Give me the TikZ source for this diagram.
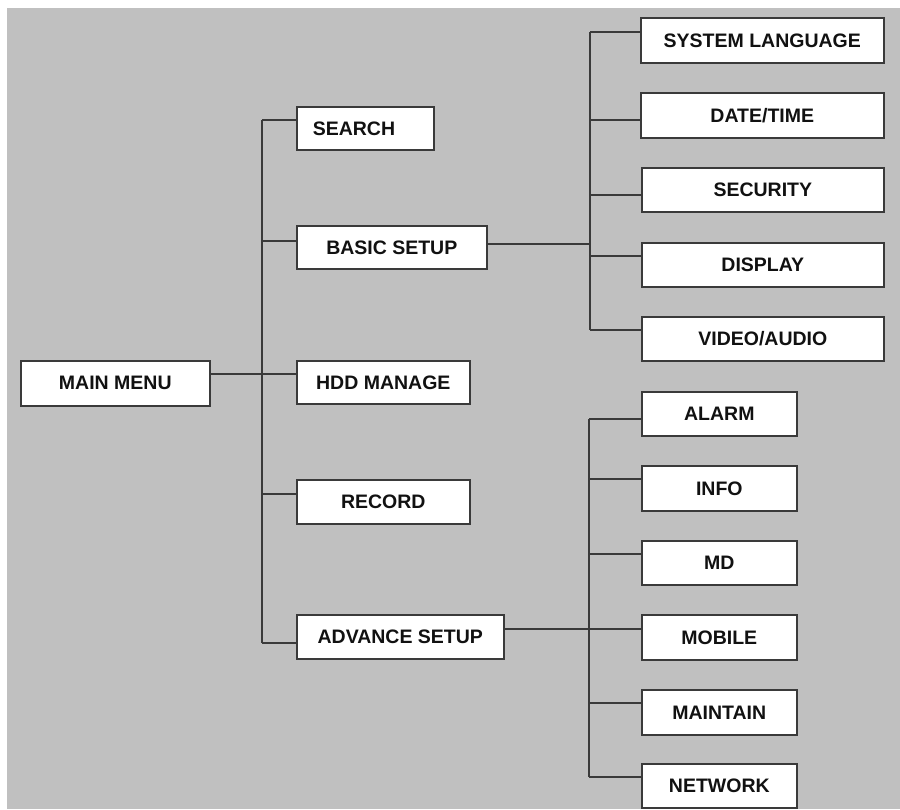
\documentclass[tikz,border=0pt]{standalone}
\usepackage{fontspec}
\setmainfont{Liberation Sans}
\definecolor{bggray}{HTML}{C0C0C0}
\definecolor{edge}{HTML}{3A3A3A}
\definecolor{ink}{HTML}{111111}
\begin{document}
\begin{tikzpicture}[x=1pt,y=-1pt,
  box/.style={draw=edge, line width=1.6pt, fill=white, inner sep=0pt, anchor=north west,
    text=ink, font=\fontsize{19.5}{20}\selectfont\bfseries},
  conn/.style={draw=edge, line width=1.5pt}]
\useasboundingbox (0,0) rectangle (900,809);
\fill[white] (0,0) rectangle (900,809);
\fill[bggray] (7,8) rectangle (900,809);
% level 1
\node[box, minimum width=189pt, minimum height=45pt] (main) at (20,360) {MAIN MENU};
% level 2
\node[box, minimum width=137pt, minimum height=43pt] (search) at (296,106) {\makebox[137pt][l]{\hspace{16pt}SEARCH}};
\node[box, minimum width=190pt, minimum height=43pt] (basic) at (296,225) {BASIC SETUP};
\node[box, minimum width=173pt, minimum height=43pt] (hdd) at (296,360) {HDD MANAGE};
\node[box, minimum width=173pt, minimum height=44pt] (record) at (296,479) {RECORD};
\node[box, minimum width=207pt, minimum height=44pt] (advance) at (296,614) {ADVANCE SETUP};
% level 3 upper
\node[box, minimum width=243pt, minimum height=45pt] (syslang) at (640,17) {SYSTEM LANGUAGE};
\node[box, minimum width=243pt, minimum height=45pt] (date) at (640,92) {DATE/TIME};
\node[box, minimum width=242pt, minimum height=44pt] (security) at (641,167) {SECURITY};
\node[box, minimum width=242pt, minimum height=44pt] (display) at (641,242) {DISPLAY};
\node[box, minimum width=242pt, minimum height=44pt] (video) at (641,316) {VIDEO/AUDIO};
% level 3 lower
\node[box, minimum width=155pt, minimum height=44pt] (alarm) at (641,391) {ALARM};
\node[box, minimum width=155pt, minimum height=45pt] (info) at (641,465) {INFO};
\node[box, minimum width=155pt, minimum height=44pt] (md) at (641,540) {MD};
\node[box, minimum width=155pt, minimum height=45pt] (mobile) at (641,614) {MOBILE};
\node[box, minimum width=155pt, minimum height=45pt] (maintain) at (641,689) {MAINTAIN};
\node[box, minimum width=155pt, minimum height=44pt] (network) at (641,763) {NETWORK};
% trunk junctions
\coordinate (tTop) at (262,120);
\coordinate (tBasic) at (262,241);
\coordinate (tMain) at (262,374);
\coordinate (tRec) at (262,494);
\coordinate (tBot) at (262,643);
\draw[conn] (tTop) -- (tBot);
\draw[conn] (tTop) -- (search.west |- tTop);
\draw[conn] (tBasic) -- (basic.west |- tBasic);
\draw[conn] (main.east |- tMain) -- (tMain) -- (hdd.west |- tMain);
\draw[conn] (tRec) -- (record.west |- tRec);
\draw[conn] (tBot) -- (advance.west |- tBot);
% upper group
\coordinate (u1) at (590,32);
\coordinate (u2) at (590,120);
\coordinate (u3) at (590,195);
\coordinate (u4) at (590,256);
\coordinate (u5) at (590,330);
\coordinate (uB) at (590,244);
\draw[conn] (basic.east |- uB) -- (uB);
\draw[conn] (u1) -- (u5);
\draw[conn] (u1) -- (syslang.west |- u1);
\draw[conn] (u2) -- (date.west |- u2);
\draw[conn] (u3) -- (security.west |- u3);
\draw[conn] (u4) -- (display.west |- u4);
\draw[conn] (u5) -- (video.west |- u5);
% lower group
\coordinate (l1) at (589,419);
\coordinate (l2) at (589,479);
\coordinate (l3) at (589,554);
\coordinate (l4) at (589,629);
\coordinate (l5) at (589,703);
\coordinate (l6) at (589,777);
\draw[conn] (l1) -- (l6);
\draw[conn] (l1) -- (alarm.west |- l1);
\draw[conn] (l2) -- (info.west |- l2);
\draw[conn] (l3) -- (md.west |- l3);
\draw[conn] (advance.east |- l4) -- (l4) -- (mobile.west |- l4);
\draw[conn] (l5) -- (maintain.west |- l5);
\draw[conn] (l6) -- (network.west |- l6);
\end{tikzpicture}
\end{document}
